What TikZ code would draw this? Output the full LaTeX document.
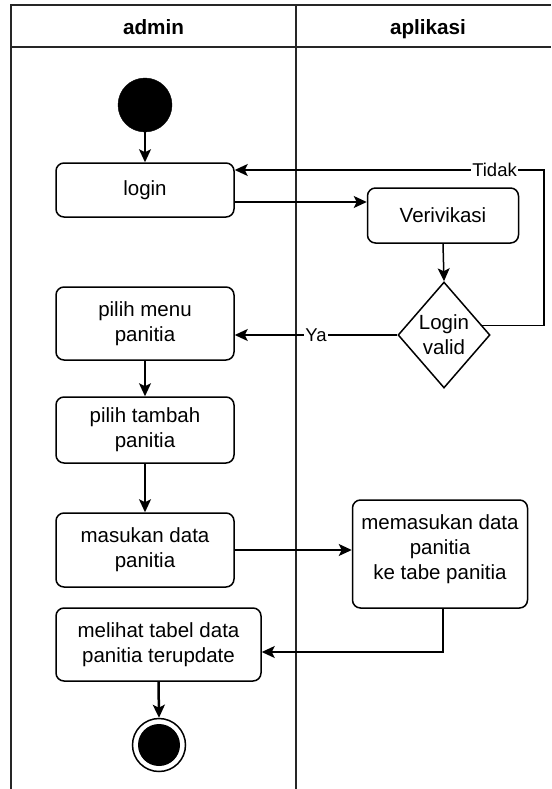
\documentclass[tikz,border=0pt]{standalone}
\usepackage{fontspec}
\setmainfont{Liberation Sans}
\usetikzlibrary{arrows.meta,shapes.geometric,calc}
\tikzset{
  lane/.style={line width=1.5pt, draw=black!85},
  act/.style={draw, line width=1.5pt, rounded corners=8pt, fill=white, align=center,
    inner sep=0pt, font=\fontsize{20.5}{25}\selectfont},
  lbl/.style={align=center, inner sep=0pt, font=\fontsize{20.5}{25}\selectfont},
  elbl/.style={fill=white, inner sep=1pt, font=\fontsize{18.5}{22}\selectfont},
  hdr/.style={font=\bfseries\fontsize{20.7}{25}\selectfont, inner sep=0pt, anchor=base},
  arr/.style={draw, line width=1.5pt, -{Stealth[length=13pt,width=12pt,inset=3pt]}},
  dec/.style={draw, diamond, line width=1.5pt, inner sep=0pt, fill=white},
}
\begin{document}
\begin{tikzpicture}[x=1pt,y=-1pt]
\useasboundingbox (0,0) rectangle (551,789);
% swimlanes
\draw[lane] (11,789) -- (11,5) -- (551,5);
\draw[lane] (11,47) -- (551,47);
\draw[lane] (296,5) -- (296,789);
\node[hdr] (hA) at (153.5,35) {admin};
\node[hdr] (hB) at (428,35) {aplikasi};
% nodes
\node[circle, fill=black, draw=black, minimum size=54pt, inner sep=0pt] (start) at (145,105) {};
\node[act, minimum width=178pt, minimum height=54pt] (login) at (145,190) {login};
\node[act, minimum width=151pt, minimum height=55pt] (ver) at (443,215.5) {Verivikasi};
\node[dec, minimum width=92pt, minimum height=106pt] (dia) at (444,335) {};
\node[lbl] (diaT) at (444,335) {Login\\valid};
\node[act, minimum width=178pt, minimum height=73pt] (menu) at (145,323.5) {pilih menu\\panitia};
\node[act, minimum width=178pt, minimum height=66pt] (tambah) at (145,430) {pilih tambah\\panitia};
\node[act, minimum width=178pt, minimum height=74pt] (masuk) at (145,550) {masukan data\\panitia};
\node[act, minimum width=175pt, minimum height=108pt] (memas) at (440,554) {};
\node[lbl] (memasT) at (440,549) {memasukan data\\panitia\\ke tabe panitia};
\node[act, minimum width=205pt, minimum height=73pt] (lihat) at (158.5,644.5) {melihat tabel data\\panitia terupdate};
\node[circle, draw=black, line width=1.5pt, minimum size=53pt, inner sep=0pt] (end) at (159,745) {};
\node[circle, fill=black, minimum size=42pt, inner sep=0pt] (endin) at (159,745) {};
\coordinate (tk) at (544,170);
% edges
\draw[arr] (start.south) -- (login.north);
\draw[arr] ([yshift=-12pt]login.east) -- ([yshift=-12pt]login.east -| ver.west);
\draw[arr] (ver.south) -- (dia.north);
\draw[arr] (dia.14) -| (tk) -- (tk -| login.east) node[elbl, pos=0.16] (tidak) {Tidak};
\draw[arr] (dia.west) -- (dia.west -| menu.east) node[elbl, pos=0.5] (ya) {Ya};
\draw[arr] (menu.south) -- (tambah.north);
\draw[arr] (tambah.south) -- (masuk.north);
\draw[arr] (masuk.east) -- (masuk.east -| memas.west);
\draw[arr] ([xshift=3pt]memas.south) |- ([yshift=-7.5pt]lihat.east);
\draw[arr, line width=2.5pt] (lihat.south) -- (end.north);
\end{tikzpicture}
\end{document}
